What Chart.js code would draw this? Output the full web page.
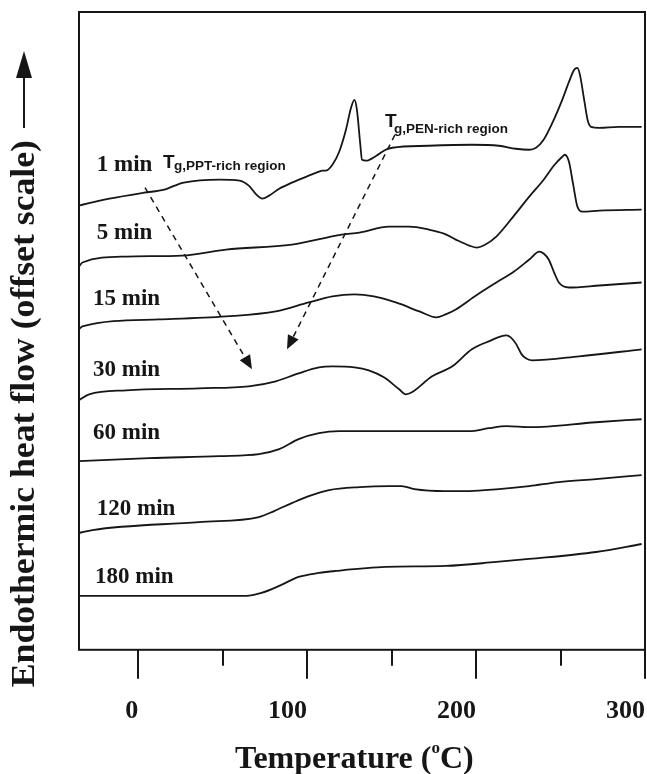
<!DOCTYPE html>
<html>
<head>
<meta charset="utf-8">
<title>DSC traces</title>
<script src="https://cdn.jsdelivr.net/npm/chart.js@4.4.1/dist/chart.umd.min.js"></script>
<style>
  body { margin: 0; background: #fff; }
  canvas { display: block; }
</style>
</head>
<body>
<canvas id="dscChart" width="647" height="774"></canvas>
<script>
// x = temperature (°C), y = heat flow in arbitrary offset units
const t1min = [-35,-17,3.5,15.5,21.5,27,48,60,65.5,70,73.5,77.5,83.5,91,101,107,109,111,115,119,123,126,128,129.5,131.5,132.5,135,141,146.5,150.5,172,197.5,213.5,223.5,231.5,235.5,240,246,251,255,258,260,261.5,264,266,268,273,284.5,298];
const h1min = [44.5,45.2,45.8,46.1,46.5,46.8,47.1,47.0,46.5,45.6,45.2,45.5,46.2,46.8,47.5,47.9,48.0,48.0,48.6,49.9,52.1,54.3,55.1,54.1,50.6,49.1,49.0,49.5,50.1,50.3,50.5,50.6,50.5,50.2,50.1,50.3,51.1,53.1,55.1,56.9,58.1,58.3,57.6,55.1,53.1,52.4,52.3,52.4,52.4];

const t5min = [-35,-33,-7,26,52,91,120.5,131,148.5,160.5,172,181,188,196,200.5,204.5,212,222.5,231.5,240,246,251,252.5,255,257.5,260,263,273,298];
const h5min = [38.4,38.8,39.4,39.5,40.1,40.6,41.6,41.8,42.4,42.4,42.1,41.7,41.1,40.5,40.3,40.5,41.4,43.5,45.4,47.1,48.5,49.4,49.6,48.9,46.6,44.4,43.9,44.0,44.1];

const t15min = [-35,-33,12.5,52,81.5,101,115,128,139.5,152.5,166.5,176.5,182,188,200,212,222.5,231.5,237.5,240,243,246,249,255,273,298];
const h15min = [32.1,32.4,33.1,33.4,33.9,34.8,35.4,35.6,35.4,34.8,33.9,33.3,33.6,34.1,35.5,36.8,37.9,39.1,39.9,39.7,39.1,37.9,36.8,36.3,36.5,36.8];

const t30min = [-35,-29,-7,36,65.5,81.5,95,107,115,128,136.5,145.5,154.5,158.5,162,174,186,197.5,207.5,218,220.5,223.5,227,229.5,233,261,298];
const h30min = [25.0,25.6,26.0,26.2,26.4,26.9,27.7,28.3,28.4,28.3,28.0,27.3,26.1,25.6,25.8,27.4,28.4,30.1,30.9,31.5,31.3,30.7,29.6,29.2,29.0,29.4,30.1];

const t60min = [-35,6.5,48,71.5,83.5,95,107,119,154.5,196,207.5,218,231.5,271,298];
const h60min = [18.9,19.2,19.4,19.6,20.1,21.1,21.7,21.9,21.9,21.9,22.2,22.4,22.3,22.8,23.1];

const t120min = [-35,-27,36,71.5,80.5,91,101,113,131,148.5,156,163.5,181.5,196,213.5,231.5,249,271,298];
const h120min = [11.7,12.0,12.8,13.3,13.9,14.7,15.4,16.0,16.3,16.4,16.4,16.1,15.9,15.9,16.1,16.4,16.8,17.1,17.5];

const t180min = [-35,36,64,73,83.5,95,107,117,146.5,182,212,231.5,271,298];
const h180min = [5.4,5.4,5.4,5.7,6.4,7.3,7.7,7.9,8.3,8.4,8.8,9.1,9.8,10.6];

// curve labels (anchor in data units)
const curveLabels = ['1 min', '5 min', '15 min', '30 min', '60 min', '120 min', '180 min'];
const labelX = [-24.5, -24.5, -26.7, -26.7, -26.7, -24.5, -25.5];
const labelY = [48.6, 41.8, 35.1, 28.0, 21.7, 14.1, 7.3];

// axis
const xMin = -35, xMax = 300, yMin = 0, yMax = 63.9;
const labelTicks = [0, 100, 200, 300];
const markTicks = [0, 50, 100, 150, 200, 250, 300];

// dashed arrows: [fromT, fromH, toT, toH]
const tgArrows = [
  [4.1, 46.3, 67.4, 28.1],
  [152, 51.6, 88.1, 30.1]
];

const ink = '#161616';
const serif = '"Liberation Serif", "Times New Roman", serif';
const sans = '"Liberation Sans", Arial, sans-serif';

const toPoints = (ts, hs) => ts.map((t, i) => ({ x: t, y: hs[i] }));
const series = [
  [t1min, h1min], [t5min, h5min], [t15min, h15min], [t30min, h30min],
  [t60min, h60min], [t120min, h120min], [t180min, h180min]
];

const decorations = {
  id: 'decorations',
  afterDraw(chart) {
    const { ctx, chartArea: a, scales: { x, y } } = chart;
    ctx.save();
    ctx.strokeStyle = ink;
    ctx.fillStyle = ink;

    // frame
    ctx.lineWidth = 2;
    ctx.strokeRect(a.left, a.top, a.right - a.left, a.bottom - a.top);

    // tick marks (outward)
    markTicks.forEach(v => {
      const px = Math.round(x.getPixelForValue(v));
      const len = v % 100 === 0 ? 29 : 16;
      ctx.beginPath();
      ctx.moveTo(px, a.bottom);
      ctx.lineTo(px, a.bottom + len);
      ctx.stroke();
    });

    // curve labels
    ctx.font = 'bold 23px ' + serif;
    ctx.textAlign = 'left';
    ctx.textBaseline = 'middle';
    curveLabels.forEach((s, i) => {
      ctx.fillText(s, x.getPixelForValue(labelX[i]), y.getPixelForValue(labelY[i]));
    });

    // Tg annotations
    ctx.textBaseline = 'alphabetic';
    const tg = (tT, tH, sT, sH, sub) => {
      ctx.font = 'bold 19px ' + sans;
      ctx.fillText('T', x.getPixelForValue(tT), y.getPixelForValue(tH));
      ctx.font = 'bold 13.5px ' + sans;
      ctx.fillText(sub, x.getPixelForValue(sT), y.getPixelForValue(sH));
    };
    tg(14.7, 48.3, 21.2, 48.1, 'g,PPT-rich region');
    tg(146.1, 52.4, 151.4, 51.8, 'g,PEN-rich region');

    // dashed arrows
    tgArrows.forEach(([t0, h0, t1, h1]) => {
      const x0 = x.getPixelForValue(t0), y0 = y.getPixelForValue(h0);
      const x1 = x.getPixelForValue(t1), y1 = y.getPixelForValue(h1);
      const ang = Math.atan2(y1 - y0, x1 - x0);
      const head = 14, half = 6;
      const bx = x1 - head * Math.cos(ang), by = y1 - head * Math.sin(ang);
      ctx.lineWidth = 1.5;
      ctx.setLineDash([6, 5]);
      ctx.beginPath();
      ctx.moveTo(x0, y0);
      ctx.lineTo(bx, by);
      ctx.stroke();
      ctx.setLineDash([]);
      ctx.beginPath();
      ctx.moveTo(x1, y1);
      ctx.lineTo(bx + half * Math.sin(ang), by - half * Math.cos(ang));
      ctx.lineTo(bx - half * Math.sin(ang), by + half * Math.cos(ang));
      ctx.closePath();
      ctx.fill();
    });

    // x title with superscript o
    ctx.textAlign = 'left';
    ctx.textBaseline = 'alphabetic';
    ctx.font = 'bold 32px ' + serif;
    let tx = 235;
    const ty = 768;
    ctx.fillText('Temperature (', tx, ty);
    tx += ctx.measureText('Temperature (').width;
    ctx.font = 'bold 17px ' + serif;
    ctx.fillText('o', tx, ty - 15);
    tx += ctx.measureText('o').width;
    ctx.font = 'bold 32px ' + serif;
    ctx.fillText('C)', tx, ty);

    // y title, rotated, with arrow
    ctx.save();
    ctx.translate(34, 140);
    ctx.rotate(-Math.PI / 2);
    ctx.scale(1.05, 1);
    ctx.textAlign = 'right';
    ctx.font = 'bold 34px ' + serif;
    ctx.fillText('Endothermic heat flow (offset scale)', 0, 0);
    ctx.restore();
    ctx.lineWidth = 2;
    ctx.beginPath();
    ctx.moveTo(24, 128);
    ctx.lineTo(24, 74);
    ctx.stroke();
    ctx.beginPath();
    ctx.moveTo(24, 51);
    ctx.lineTo(32, 78);
    ctx.lineTo(16, 78);
    ctx.closePath();
    ctx.fill();

    ctx.restore();
  }
};

const ctx = document.getElementById('dscChart').getContext('2d');
new Chart(ctx, {
  type: 'line',
  data: {
    datasets: series.map(([ts, hs], i) => ({
      label: curveLabels[i],
      data: toPoints(ts, hs),
      borderColor: ink,
      borderWidth: 1.8,
      pointRadius: 0,
      fill: false,
      cubicInterpolationMode: 'monotone'
    }))
  },
  options: {
    responsive: false,
    animation: false,
    layout: { padding: { left: 79, right: 2, top: 12, bottom: 1 } },
    plugins: { legend: { display: false }, tooltip: { enabled: false } },
    scales: {
      x: {
        type: 'linear',
        min: xMin,
        max: xMax,
        afterBuildTicks: s => { s.ticks = labelTicks.map(v => ({ value: v })); },
        afterFit: s => { s.paddingLeft = 0; s.paddingRight = 0; },
        grid: { display: false, drawTicks: false },
        border: { display: false },
        ticks: {
          align: 'end',
          padding: 46,
          color: ink,
          font: { family: serif, weight: 'bold', size: 26 },
          callback: v => String(v)
        }
      },
      y: { display: false, min: yMin, max: yMax }
    }
  },
  plugins: [decorations]
});
</script>
</body>
</html>
